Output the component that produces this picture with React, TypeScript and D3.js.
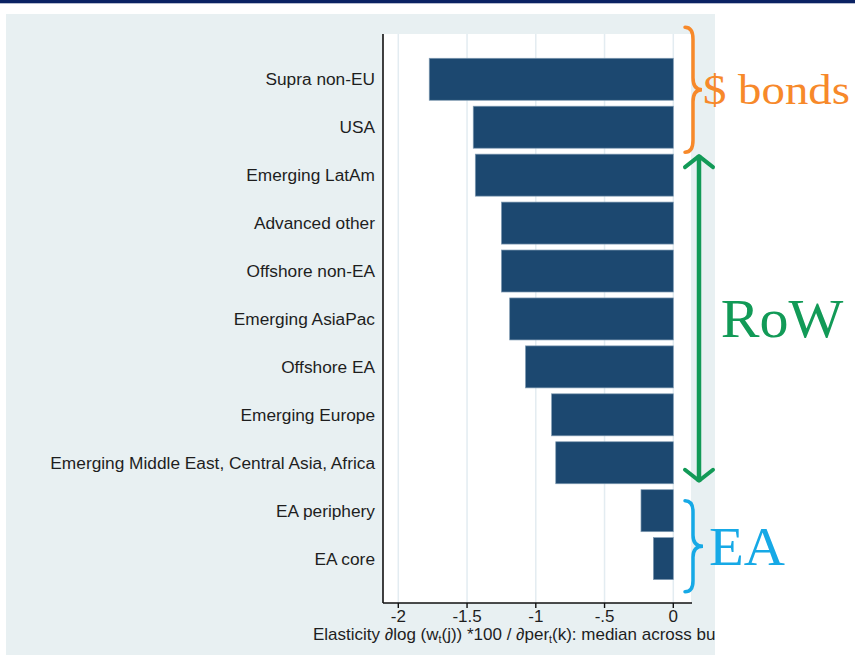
import React from "react";
import * as d3 from "d3";

const categories = [
  "Supra non-EU",
  "USA",
  "Emerging LatAm",
  "Advanced other",
  "Offshore non-EA",
  "Emerging AsiaPac",
  "Offshore EA",
  "Emerging Europe",
  "Emerging Middle East, Central Asia, Africa",
  "EA periphery",
  "EA core",
];
const values = [-1.775, -1.455, -1.44, -1.25, -1.25, -1.19, -1.075, -0.885, -0.855, -0.235, -0.145];
const tickValues = [-2, -1.5, -1, -0.5, 0];
const tickLabels = ["-2", "-1.5", "-1", "-.5", "0"];

const W = 855;
const H = 655;
const PANEL = { x: 6, y: 14, w: 709, h: 641 };
const PLOT = { left: 383, right: 691, top: 34, bottom: 603 };

const BAR = "#1c4870";
const ORANGE = "#f7892a";
const GREEN = "#129a57";
const CYAN = "#16a9e6";
const SANS = "'Liberation Sans', Arial, sans-serif";
const SERIF = "'Liberation Serif', 'Times New Roman', serif";

function bracePath(x: number, y1: number, y2: number, s: number, w: number, c: number) {
  const mid = (y1 + y2) / 2;
  return [
    `M${x},${y1}`,
    `Q${x + s},${y1} ${x + s},${y1 + c}`,
    `L${x + s},${mid - c}`,
    `Q${x + s},${mid} ${x + w},${mid}`,
    `Q${x + s},${mid} ${x + s},${mid + c}`,
    `L${x + s},${y2 - c}`,
    `Q${x + s},${y2} ${x},${y2}`,
  ].join(" ");
}

export default function App() {
  const x = d3.scaleLinear().domain([-2, 0]).range([398.3, 673.3]);
  const y = d3
    .scaleBand<string>()
    .domain(categories)
    .range([55.3, 582.6])
    .paddingInner(0.124)
    .paddingOuter(0.062);
  const bw = y.bandwidth();

  const top = (i: number) => y(categories[i]) as number;
  const bot = (i: number) => (y(categories[i]) as number) + bw;

  // annotation geometry derived from bands
  const ob1 = top(0) - 31;
  const ob2 = bot(1) + 4;
  const obMid = (ob1 + ob2) / 2;
  const ga1 = top(2) + 1;
  const ga2 = bot(8) - 2;
  const gaMid = (ga1 + ga2) / 2;
  const bb1 = top(9) + 11;
  const bb2 = bot(10) + 12;
  const bbMid = (bb1 + bb2) / 2;
  const ax = 699;

  return (
    <svg width={W} height={H} style={{ position: "absolute", left: 0, top: 0 }}>
      <defs>
        <clipPath id="panelClip">
          <rect x={PANEL.x} y={PANEL.y} width={PANEL.w} height={PANEL.h} />
        </clipPath>
      </defs>
      <rect x={0} y={0} width={W} height={H} fill="#ffffff" />
      <rect x={0} y={0} width={W} height={3.3} fill="#0a2263" />
      <rect x={PANEL.x} y={PANEL.y} width={PANEL.w} height={PANEL.h} fill="#e8f0f2" />
      <rect
        x={PLOT.left}
        y={PLOT.top}
        width={PLOT.right - PLOT.left}
        height={PLOT.bottom - PLOT.top}
        fill="#ffffff"
      />
      {tickValues.map((t) => (
        <line
          key={"g" + t}
          x1={x(t)}
          x2={x(t)}
          y1={PLOT.top}
          y2={PLOT.bottom}
          stroke="#e3ecf1"
          strokeWidth={1.5}
        />
      ))}
      {categories.map((c, i) => (
        <rect
          key={c}
          x={x(values[i])}
          y={y(c)}
          width={x(0) - x(values[i])}
          height={bw}
          fill={BAR}
          stroke="#7f9ab2"
          strokeWidth={0.7}
        />
      ))}
      {categories.map((c) => (
        <text
          key={"l" + c}
          x={375}
          y={(y(c) as number) + bw / 2}
          dy="0.36em"
          textAnchor="end"
          fontFamily={SANS}
          fontSize={17.3}
          fill="#1e1e1e"
        >
          {c}
        </text>
      ))}
      {/* axes */}
      <line x1={PLOT.left} x2={PLOT.left} y1={PLOT.top} y2={PLOT.bottom} stroke="#111" strokeWidth={1.6} />
      <line x1={PLOT.left} x2={PLOT.right + 1} y1={PLOT.bottom} y2={PLOT.bottom} stroke="#111" strokeWidth={1.6} />
      {tickValues.map((t, i) => (
        <g key={"t" + t}>
          <line x1={x(t)} x2={x(t)} y1={PLOT.bottom} y2={PLOT.bottom + 5} stroke="#111" strokeWidth={1.4} />
          <text
            x={x(t)}
            y={622}
            textAnchor="middle"
            fontFamily={SANS}
            fontSize={17}
            fill="#1e1e1e"
          >
            {tickLabels[i]}
          </text>
        </g>
      ))}
      <g clipPath="url(#panelClip)">
        <text x={313} y={640} fontFamily={SANS} fontSize={17} fill="#1e1e1e">
          Elasticity ∂log (w
          <tspan fontSize={10.5} dy={3}>t</tspan>
          <tspan dy={-3}>(j)) *100 / ∂per</tspan>
          <tspan fontSize={10.5} dy={3}>t</tspan>
          <tspan dy={-3}>(k): median across buckets</tspan>
        </text>
      </g>
      {/* annotations */}
      <path d={bracePath(685, ob1, ob2, 8, 17, 12)} fill="none" stroke={ORANGE} strokeWidth={3.5} strokeLinecap="round" />
      <text
        x={703}
        y={obMid + 14}
        fontFamily={SERIF}
        fontSize={43}
        fill={ORANGE}
        textLength={147}
        lengthAdjust="spacingAndGlyphs"
      >
        $ bonds
      </text>
      <line x1={ax} x2={ax} y1={ga1} y2={ga2} stroke={GREEN} strokeWidth={4.5} />
      <polyline
        points={`${ax - 14},${ga1 + 12} ${ax},${ga1 + 1} ${ax + 14},${ga1 + 12}`}
        fill="none"
        stroke={GREEN}
        strokeWidth={4}
        strokeLinecap="round"
        strokeLinejoin="round"
      />
      <polyline
        points={`${ax - 14},${ga2 - 12} ${ax},${ga2 - 1} ${ax + 14},${ga2 - 12}`}
        fill="none"
        stroke={GREEN}
        strokeWidth={4}
        strokeLinecap="round"
        strokeLinejoin="round"
      />
      <text
        x={720.7}
        y={gaMid + 18.5}
        fontFamily={SERIF}
        fontSize={55}
        fill={GREEN}
        textLength={122.6}
        lengthAdjust="spacingAndGlyphs"
      >
        RoW
      </text>
      <path d={bracePath(685, bb1, bb2, 8, 18, 11)} fill="none" stroke={CYAN} strokeWidth={3.5} strokeLinecap="round" />
      <text
        x={709}
        y={bbMid + 19}
        fontFamily={SERIF}
        fontSize={54}
        fill={CYAN}
        textLength={76}
        lengthAdjust="spacingAndGlyphs"
      >
        EA
      </text>
    </svg>
  );
}
